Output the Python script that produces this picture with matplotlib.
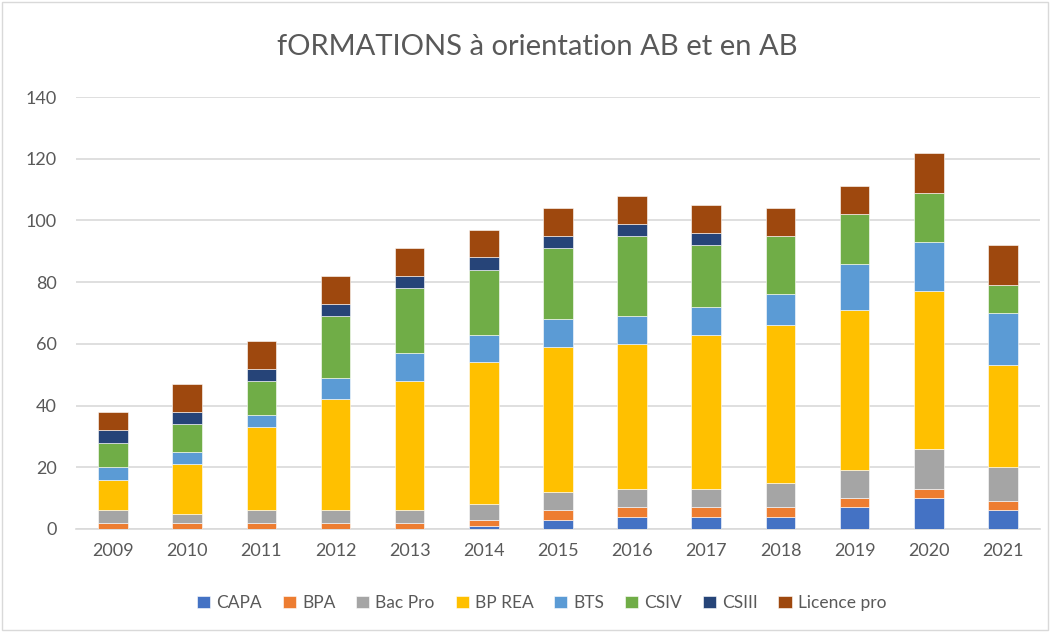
import matplotlib
matplotlib.use("Agg")
import matplotlib.pyplot as plt
import numpy as np
from matplotlib.patches import Rectangle

plt.rcParams["font.family"] = ["Lato", "DejaVu Sans"]

# =============================================================================
# Data
# =============================================================================

years = ["2009", "2010", "2011", "2012", "2013", "2014", "2015",
         "2016", "2017", "2018", "2019", "2020", "2021"]

capa     = [0, 0, 0, 0, 0, 1, 3, 4, 4, 4, 7, 10, 6]
bpa      = [2, 2, 2, 2, 2, 2, 3, 3, 3, 3, 3, 3, 3]
bac_pro  = [4, 3, 4, 4, 4, 5, 6, 6, 6, 8, 9, 13, 11]
bp_rea   = [10, 16, 27, 36, 42, 46, 47, 47, 50, 51, 52, 51, 33]
bts      = [4, 4, 4, 7, 9, 9, 9, 9, 9, 10, 15, 16, 17]
csiv     = [8, 9, 11, 20, 21, 21, 23, 26, 20, 19, 16, 16, 9]
csiii    = [4, 4, 4, 4, 4, 4, 4, 4, 4, 0, 0, 0, 0]
licence  = [6, 9, 9, 9, 9, 9, 9, 9, 9, 9, 9, 13, 13]

series = [
    ("CAPA",        capa,    "#4472C4"),
    ("BPA",         bpa,     "#ED7D31"),
    ("Bac Pro",     bac_pro, "#A5A5A5"),
    ("BP REA",      bp_rea,  "#FFC000"),
    ("BTS",         bts,     "#5B9BD5"),
    ("CSIV",        csiv,    "#70AD47"),
    ("CSIII",       csiii,   "#264478"),
    ("Licence pro", licence, "#9E480E"),
]

# =============================================================================
# Plot
# =============================================================================

fig = plt.figure(figsize=(10.52, 6.32), dpi=100)
ax = fig.add_axes([0.0722, 0.163, 0.9164, 0.6835])

x = np.arange(len(years))
bottom = np.zeros(len(years))
for name, vals, color in series:
    ax.bar(x, vals, width=0.4, bottom=bottom, color=color, label=name,
           edgecolor="white", linewidth=0.4, zorder=3)
    bottom += np.array(vals)

ax.set_xlim(-0.5, len(years) - 0.5)
ax.set_ylim(0, 140)
ax.set_yticks(range(0, 141, 20))
ax.set_xticks(x)
ax.set_xticklabels(years)
ax.tick_params(axis="both", length=0, labelsize=13, colors="#595959")
ax.tick_params(axis="x", pad=10)
ax.tick_params(axis="y", pad=14)
ax.grid(axis="y", color="#d9d9d9", linewidth=1.2, zorder=0)
for side in ["top", "right", "left"]:
    ax.spines[side].set_visible(False)
ax.spines["bottom"].set_color("#d9d9d9")
ax.spines["bottom"].set_linewidth(1.2)

fig.text(0.511, 0.925, "fORMATIONS à orientation AB et en AB",
         ha="center", va="center", fontsize=21, color="#595959")

fig.legend(loc="center", bbox_to_anchor=(0.515, 0.046), ncol=8,
           frameon=False, fontsize=12.5, handlelength=0.75, handleheight=0.75,
           handletextpad=0.35, columnspacing=1.2, labelcolor="#595959")

fig.patches.append(Rectangle((0.002, 0.003), 0.994, 0.994, transform=fig.transFigure,
                             fill=False, edgecolor="#d9d9d9", linewidth=1))

fig.savefig("out.png", dpi=100)
plt.close(fig)
